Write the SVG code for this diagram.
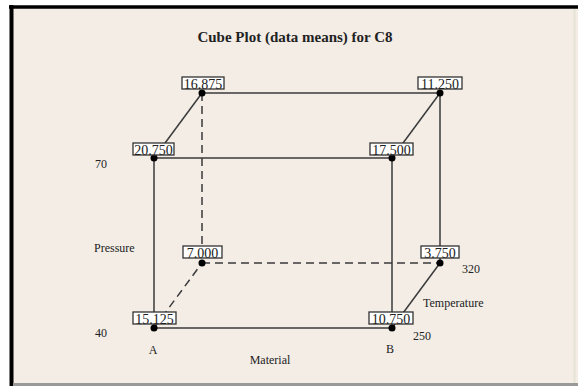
<svg xmlns="http://www.w3.org/2000/svg" width="578" height="386" viewBox="0 0 578 386">
<style>
.ln{stroke:#3a3a3a;stroke-width:1.5;fill:none}
.dash{stroke-dasharray:8 5}
.lbl{fill:#fff;stroke:#333;stroke-width:1.3}
.t{font-family:"Liberation Serif",serif;font-size:12px;fill:#222}
.v{font-family:"Liberation Serif",serif;font-size:14px;fill:#222;text-anchor:middle}
.c{font-family:"Liberation Serif",serif;font-size:12px;fill:#222;text-anchor:middle}
.dot{fill:#000}
</style>
<rect x="0" y="0" width="578" height="386" fill="#fff"/>
<rect x="11" y="7" width="567" height="379" fill="#F3EDE6"/>
<line x1="9" y1="7" x2="578" y2="7" stroke="#000" stroke-width="3.5"/>
<line x1="11.5" y1="5" x2="11.5" y2="386" stroke="#000" stroke-width="4"/>
<line x1="13" y1="384.5" x2="578" y2="384.5" stroke="#999" stroke-width="3"/>
<line x1="574.5" y1="9" x2="574.5" y2="383" stroke="#E6E4D6" stroke-width="2"/>
<text x="295" y="42" text-anchor="middle" font-family="Liberation Serif,serif" font-weight="bold" font-size="15" fill="#222">Cube Plot (data means) for C8</text>
<g id="connectors">
<line class="ln" x1="154" y1="158" x2="392" y2="158"/>
<line class="ln" x1="154" y1="328" x2="392" y2="328"/>
<line class="ln" x1="154" y1="158" x2="154" y2="328"/>
<line class="ln" x1="392" y1="158" x2="392" y2="328"/>
<line class="ln" x1="202" y1="93" x2="440" y2="93"/>
<line class="ln" x1="440" y1="93" x2="440" y2="263"/>
<line class="ln" x1="154" y1="158" x2="202" y2="93"/>
<line class="ln" x1="392" y1="158" x2="440" y2="93"/>
<line class="ln" x1="392" y1="328" x2="440" y2="263"/>
<line class="ln dash" x1="202" y1="93" x2="202" y2="263"/>
<line class="ln dash" x1="202" y1="263" x2="440" y2="263"/>
<line class="ln dash" x1="154" y1="328" x2="202" y2="263"/>
</g>
<g id="n-16875"><circle class="dot" cx="202" cy="93" r="3.5"/><rect class="lbl" x="182" y="77" width="42" height="12"/><text class="v" x="203" y="88.5">16.875</text></g>
<g id="n-11250"><circle class="dot" cx="440" cy="93" r="3.5"/><rect class="lbl" x="418" y="77" width="44" height="12"/><text class="v" x="440" y="88.5">11.250</text></g>
<g id="n-20750"><circle class="dot" cx="154" cy="158" r="3.5"/><rect class="lbl" x="133" y="143" width="41" height="12"/><text class="v" x="153.5" y="154.5">20.750</text></g>
<g id="n-17500"><circle class="dot" cx="392" cy="158" r="3.5"/><rect class="lbl" x="370" y="143" width="43" height="12"/><text class="v" x="391.5" y="154.5">17.500</text></g>
<g id="n-7000"><circle class="dot" cx="202" cy="263" r="3.5"/><rect class="lbl" x="183" y="246" width="39" height="12"/><text class="v" x="202.5" y="257.5">7.000</text></g>
<g id="n-3750"><circle class="dot" cx="440" cy="263" r="3.5"/><rect class="lbl" x="421" y="246" width="38" height="12"/><text class="v" x="440" y="257.5">3.750</text></g>
<g id="n-15125"><circle class="dot" cx="154" cy="328" r="3.5"/><rect class="lbl" x="133" y="312" width="43" height="12"/><text class="v" x="154.5" y="323.5">15.125</text></g>
<g id="n-10750"><circle class="dot" cx="392" cy="328" r="3.5"/><rect class="lbl" x="369" y="312" width="44" height="12"/><text class="v" x="391" y="323.5">10.750</text></g>
<g id="axis-labels">
<text class="t" x="95" y="168">70</text>
<text class="t" x="94" y="252">Pressure</text>
<text class="t" x="95" y="337">40</text>
<text class="c" x="153" y="354">A</text>
<text class="c" x="390" y="353">B</text>
<text class="c" x="270" y="364">Material</text>
<text class="t" x="413" y="340">250</text>
<text class="t" x="462" y="273">320</text>
<text class="t" x="423" y="307">Temperature</text>
</g>
</svg>
